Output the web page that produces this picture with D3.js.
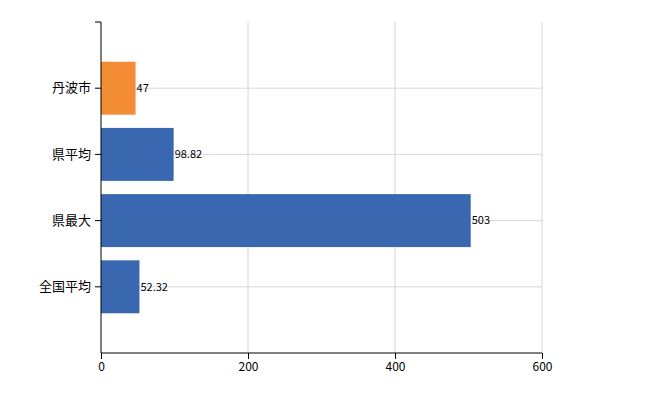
<!DOCTYPE html>
<html><head><meta charset="utf-8">
<script src="https://cdn.jsdelivr.net/npm/d3@7"></script>
<style>body{margin:0;background:#fff}</style>
</head><body>
<svg id="canvas" width="650" height="400"></svg>
<script>
// chart data
let categories = ['丹波市', '県平均', '県最大', '全国平均'];
let values = [47, 98.82, 503, 52.32];
let barColors = ['#f48b35', '#3a68b0', '#3a68b0', '#3a68b0'];
let xTicks = [0, 200, 400, 600];

let svg = d3.select('#canvas');
let font = '"Noto Sans CJK JP", "DejaVu Sans", sans-serif';
let plotLeft = 101, plotRight = 542, plotTop = 22, plotBottom = 353;

let x = d3.scaleLinear().domain([0, 600]).range([plotLeft, plotRight]);
let y = d3.scaleBand().domain(categories).range([plotTop, plotBottom])
    .paddingInner(0.2).paddingOuter(0.6);

//grid lines
svg.append('g').selectAll('line').data(xTicks.slice(1)).enter().append('line')
    .attr('x1', d => x(d)).attr('x2', d => x(d))
    .attr('y1', plotTop).attr('y2', plotBottom)
    .attr('stroke', '#d4d4d4');
svg.append('g').selectAll('line').data(categories).enter().append('line')
    .attr('x1', plotLeft).attr('x2', plotRight)
    .attr('y1', d => y(d) + y.bandwidth() / 2).attr('y2', d => y(d) + y.bandwidth() / 2)
    .attr('stroke', '#d8d8d8');

//bars
svg.append('g').selectAll('rect').data(values).enter().append('rect')
    .attr('x', x(0))
    .attr('y', (d, i) => y(categories[i]))
    .attr('width', d => x(d) - x(0))
    .attr('height', y.bandwidth())
    .attr('fill', (d, i) => barColors[i]);

//value labels
svg.append('g').selectAll('text').data(values).enter().append('text')
    .attr('x', d => x(d) + 1)
    .attr('y', (d, i) => y(categories[i]) + y.bandwidth() / 2)
    .attr('dy', '0.35em')
    .attr('font-size', 11).attr('font-family', font)
    .text(d => d);

//axes
let xAxis = svg.append('g').attr('transform', 'translate(0,' + plotBottom + ')')
    .call(d3.axisBottom(x).tickValues(xTicks).tickSizeOuter(0).tickSize(6));
xAxis.selectAll('text').attr('font-size', 12).attr('font-family', font).attr('fill', '#000');
xAxis.select('.domain').attr('d', 'M' + plotLeft + ',0H' + plotRight);

let yAxis = svg.append('g').attr('transform', 'translate(' + plotLeft + ',0)')
    .call(d3.axisLeft(y).tickSizeOuter(6).tickPadding(4));
yAxis.selectAll('text').attr('font-size', 13).attr('font-family', font).attr('fill', '#000');
yAxis.select('.domain').attr('d', 'M-6,' + plotTop + 'H0V' + plotBottom);
</script>
</body></html>
